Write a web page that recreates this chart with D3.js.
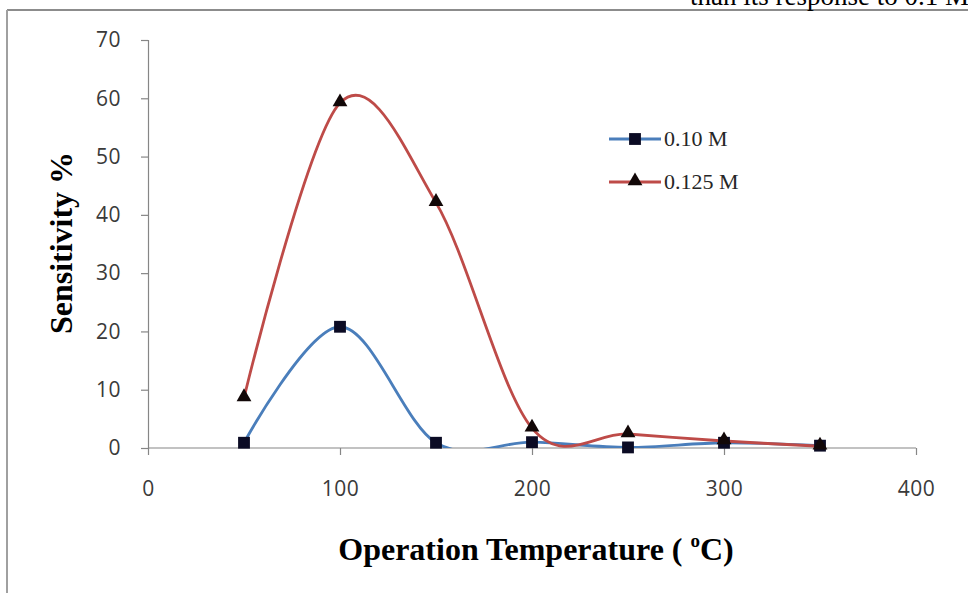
<!DOCTYPE html>
<html><head><meta charset="utf-8">
<script src="https://cdn.jsdelivr.net/npm/d3@7"></script>
<style>html,body{margin:0;padding:0;background:#fff;overflow:hidden}</style>
</head><body>
<svg id="c" width="968" height="593"></svg>
<script>
const temps = [50, 100, 150, 200, 250, 300, 350];
const s010 = [0.9, 20.8, 0.9, 1.0, 0.1, 0.9, 0.4];
const s0125 = [8.6, 59.2, 42.1, 3.4, 2.4, 1.2, 0.3];
const seriesNames = ["0.10 M", "0.125 M"];
const xTicks = [0, 100, 200, 300, 400];
const yTicks = [0, 10, 20, 30, 40, 50, 60, 70];

const svg = d3.select("#c");
const x = d3.scaleLinear().domain([0, 400]).range([148, 916]);
const y = d3.scaleLinear().domain([0, 70]).range([448, 40]);

// page frame
svg.append("line").attr("x1",7).attr("x2",968).attr("y1",10).attr("y2",10).attr("stroke","#8c8c8c").attr("stroke-width",2);
svg.append("line").attr("x1",7).attr("x2",7).attr("y1",10).attr("y2",593).attr("stroke","#a0a0a0").attr("stroke-width",2);
svg.append("text").attr("x",690).attr("y",5).attr("font-family","Liberation Serif").attr("font-size",27).attr("fill","#000").text("than its response to 0.1 M");

const gray = "#868686";
const ya = svg.append("g").attr("transform","translate(148,0)").call(d3.axisLeft(y).tickValues(yTicks).tickSize(7).tickPadding(20));
const xa = svg.append("g").attr("transform","translate(0,448)").call(d3.axisBottom(x).tickValues(xTicks).tickSize(7).tickPadding(26));
[ya, xa].forEach(g => {
  g.select(".domain").attr("stroke", gray).attr("stroke-width", 1.2);
  g.selectAll(".tick line").attr("stroke", gray).attr("stroke-width", 1.2);
  g.selectAll(".tick text").attr("fill","#3a3a3a").attr("font-family","Open Sans, Liberation Sans, sans-serif").attr("font-size",21).attr("letter-spacing",0.5);
});
xa.select(".domain").attr("d", `M${x(0)},0H${x(400)}`);
xa.selectAll(".tick line").attr("y1", 0);

svg.append("defs").append("clipPath").attr("id","pc").append("rect")
  .attr("x",148).attr("y",20).attr("width",780).attr("height",428);

const line = d3.line().x((d,i)=>x(temps[i])).y(d=>y(d)).curve(d3.curveCardinal.tension(0));
const colors = ["#4a7ebb", "#be4b48"];
const data = [s010, s0125];
data.forEach((s,k) => {
  svg.append("path").attr("d", line(s)).attr("fill","none").attr("stroke",colors[k]).attr("stroke-width",2.8).attr("clip-path","url(#pc)");
});
const sq = d3.symbol().type(d3.symbolSquare).size(140);
const tri = d3.symbol().type(d3.symbolTriangle).size(95);
svg.append("g").selectAll("path").data(s010).join("path")
  .attr("transform",(d,i)=>`translate(${x(temps[i])},${y(d)})`).attr("d",sq()).attr("fill","#0b0b24");
svg.append("g").selectAll("path").data(s0125).join("path")
  .attr("transform",(d,i)=>`translate(${x(temps[i])},${y(d)-1})`).attr("d",tri()).attr("fill","#120808");

// legend
const leg = [[139, sq(), 0], [182, tri(), 1]];
leg.forEach(([ly, sym, k]) => {
  svg.append("line").attr("x1",609).attr("x2",661).attr("y1",ly).attr("y2",ly).attr("stroke",colors[k]).attr("stroke-width",2.8);
  svg.append("path").attr("d", sym).attr("transform",`translate(635,${k?ly-1:ly})`).attr("fill", k?"#120808":"#0b0b24");
  svg.append("text").attr("x",664).attr("y",ly+7).attr("font-family","Liberation Serif").attr("font-size",22).attr("fill","#262626").text(seriesNames[k]);
});

// axis titles
svg.append("text").attr("transform","translate(72,243) rotate(-90)").attr("text-anchor","middle")
  .attr("font-family","Liberation Serif").attr("font-weight","bold").attr("font-size",32).attr("fill","#000").text("Sensitivity %");
const xt = svg.append("text").attr("x",536).attr("y",560).attr("text-anchor","middle")
  .attr("font-family","Liberation Serif").attr("font-weight","bold").attr("font-size",32).attr("fill","#000");
xt.append("tspan").text("Operation Temperature ( ");
xt.append("tspan").attr("font-size",19).attr("dy",-13).text("o");
xt.append("tspan").attr("dy",13).text("C)");
</script>
</body></html>
